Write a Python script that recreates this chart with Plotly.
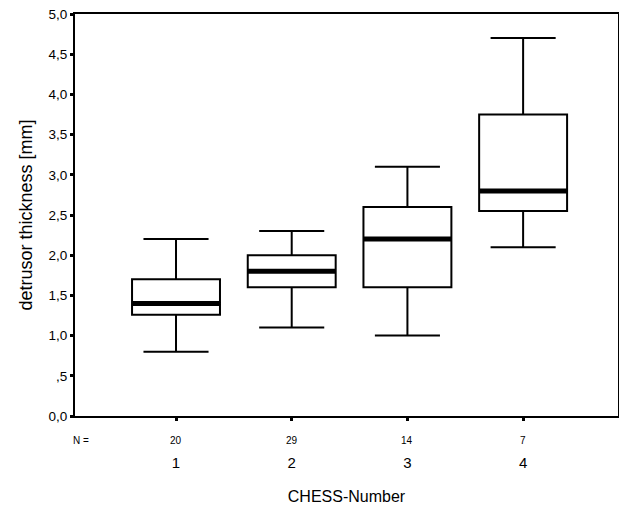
import plotly.graph_objects as go

categories = [1, 2, 3, 4]
cat_labels = ["1", "2", "3", "4"]
n_values = ["20", "29", "14", "7"]
lower_whisker = [0.8, 1.1, 1.0, 2.1]
q1 = [1.26, 1.6, 1.6, 2.55]
median = [1.4, 1.8, 2.2, 2.8]
q3 = [1.7, 2.0, 2.6, 3.75]
upper_whisker = [2.2, 2.3, 3.1, 4.7]
y_tickvals = [0, 0.5, 1, 1.5, 2, 2.5, 3, 3.5, 4, 4.5, 5]
y_ticktext = ["0,0", ",5", "1,0", "1,5", "2,0", "2,5", "3,0", "3,5", "4,0", "4,5", "5,0"]

BOX_W = 0.76
FONT = "Liberation Sans, Arial, sans-serif"

fig = go.Figure()
fig.add_trace(go.Box(
    x=categories, q1=q1, median=median, q3=q3,
    lowerfence=lower_whisker, upperfence=upper_whisker,
    width=BOX_W, whiskerwidth=0.74,
    fillcolor="white", line=dict(color="black", width=2),
    boxpoints=False, hoverinfo="skip", showlegend=False,
))

# thick median bars
mx, my = [], []
for c, m in zip(categories, median):
    mx += [c - BOX_W / 2, c + BOX_W / 2, None]
    my += [m, m, None]
fig.add_trace(go.Scatter(x=mx, y=my, mode="lines",
                         line=dict(color="black", width=5),
                         hoverinfo="skip", showlegend=False))

fig.update_layout(
    width=611, height=498,
    margin=dict(l=67, r=1, t=6, b=90, autoexpand=False),
    paper_bgcolor="white", plot_bgcolor="white",
    font=dict(family=FONT, color="black"),
    showlegend=False,
)
fig.update_xaxes(
    range=[0.127, 4.82], tickmode="array", tickvals=categories, ticktext=cat_labels,
    showline=True, linecolor="black", linewidth=2, mirror=True,
    ticks="outside", ticklen=3, tickwidth=3, tickcolor="black",
    showgrid=False, zeroline=False, automargin=False,
    tickfont=dict(size=15, family=FONT),
    ticklabelstandoff=29, ticklabeloverflow="allow",
    title=dict(text="CHESS-Number", font=dict(size=16, family=FONT), standoff=21),
)
fig.update_yaxes(
    range=[0, 5], tickmode="array", tickvals=y_tickvals, ticktext=y_ticktext,
    showline=True, linecolor="black", linewidth=2, mirror=True,
    ticks="outside", ticklen=3, tickwidth=3, tickcolor="black",
    showgrid=False, zeroline=False, automargin=False,
    tickfont=dict(size=13.5, family=FONT), ticklabeloverflow="allow",
    title=dict(text="detrusor thickness [mm]", font=dict(size=18, family=FONT), standoff=11),
)

# N = row
fig.add_annotation(x=0.127, y=0, xref="x", yref="y", text="N =", showarrow=False,
                   xanchor="center", yanchor="top", yshift=-17, xshift=6,
                   font=dict(size=10, family=FONT))
for c, n in zip(categories, n_values):
    fig.add_annotation(x=c, y=0, xref="x", yref="y", text=n, showarrow=False,
                       xanchor="center", yanchor="top", yshift=-17,
                       font=dict(size=10, family=FONT))

fig.write_html("out.html")
